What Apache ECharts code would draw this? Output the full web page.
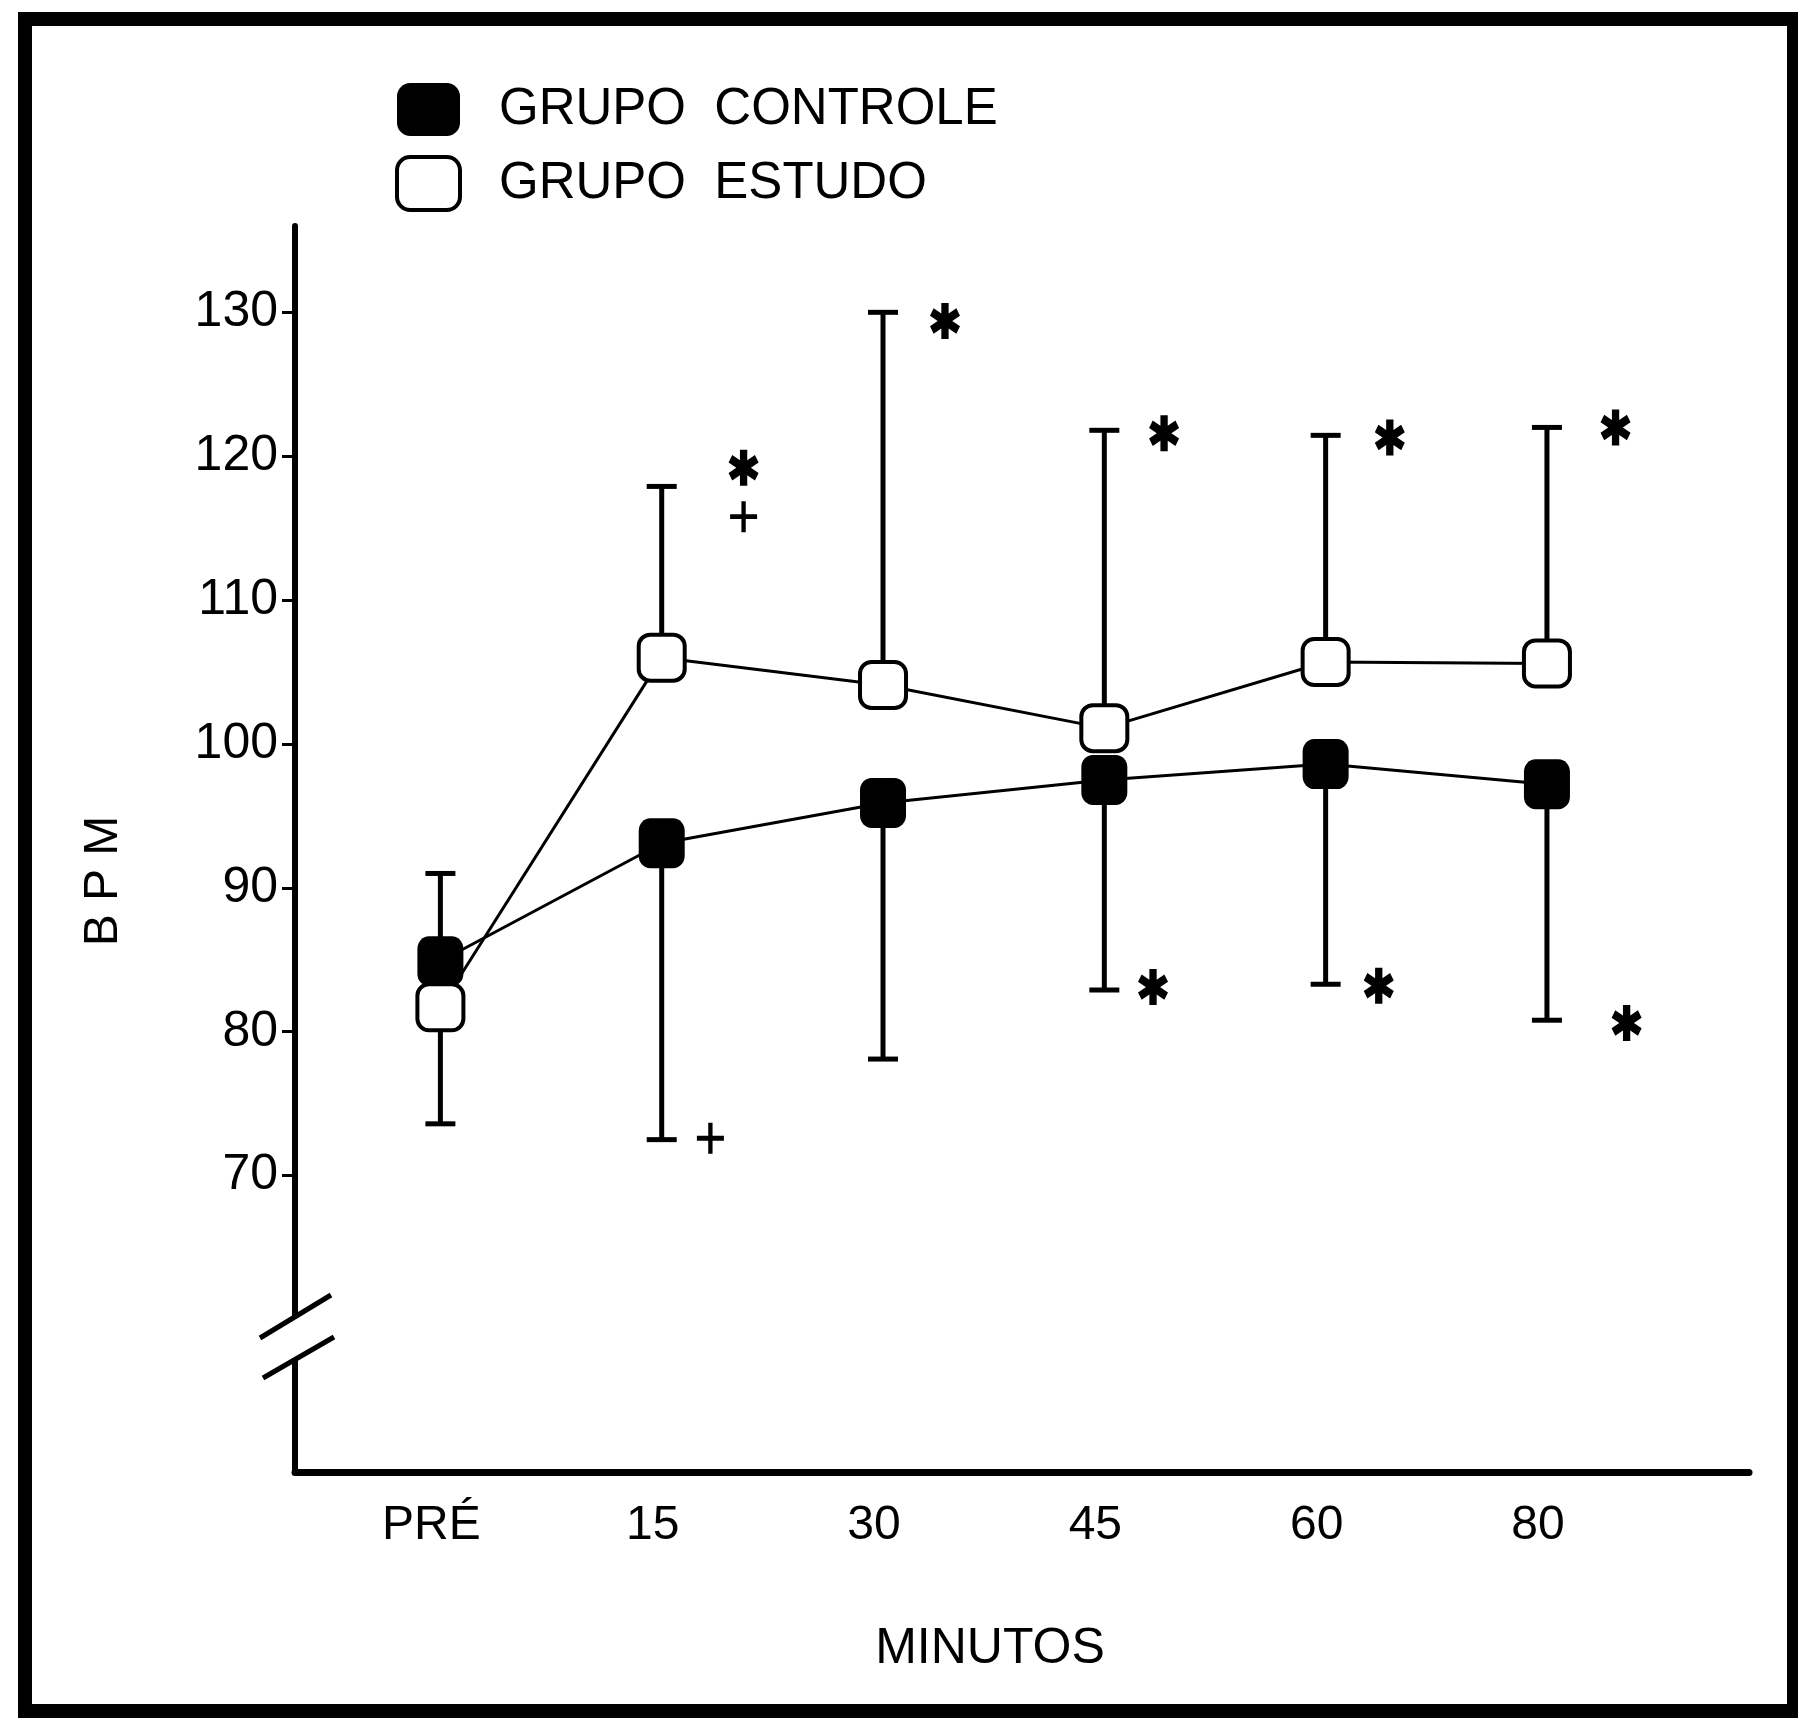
<!DOCTYPE html>
<html>
<head>
<meta charset="utf-8">
<script src="https://cdn.jsdelivr.net/npm/echarts@6/dist/echarts.min.js"></script>
<style>
  html, body { margin: 0; padding: 0; background: #fff; }
  #chart { width: 1798px; height: 1718px; }
</style>
</head>
<body>
<div id="chart"></div>
<script>
// data
const categories = ["PRÉ", "15", "30", "45", "60", "80"];
const controle = [84.9, 93.1, 95.9, 97.5, 98.6, 97.2];
const controleBar = [91.0, 72.5, 78.1, 82.9, 83.3, 80.8];
const estudo = [81.7, 106.0, 104.1, 101.1, 105.7, 105.6];
const estudoBar = [73.6, 117.9, 130.0, 121.8, 121.45, 122.0];
const yTicks = [70, 80, 90, 100, 110, 120, 130];
const asterisks = [[1.37, 119.2], [2.28, 129.4], [3.27, 121.6], [4.29, 121.3], [5.31, 122.0],
                   [3.22, 83.1], [4.24, 83.2], [5.36, 80.6]];
const plusses = [[1.37, 115.8], [1.22, 72.6]];

const FONT = "Liberation Sans";

// six-spoke asterisk built from three bars
function asteriskPath() {
  let d = "";
  for (let i = 0; i < 3; i++) {
    const a = i * Math.PI / 3;
    const dx = Math.sin(a), dy = -Math.cos(a);
    const px = -dy, py = dx;
    const L = 10, w = 2.4;
    const pts = [
      [dx * L + px * w, dy * L + py * w],
      [-dx * L + px * w, -dy * L + py * w],
      [-dx * L - px * w, -dy * L - py * w],
      [dx * L - px * w, dy * L - py * w]
    ];
    d += "M" + pts.map(p => p[0].toFixed(2) + " " + p[1].toFixed(2)).join(" L") + " Z ";
  }
  return "path://" + d;
}
const plusPath = "path://M-1.6 -10 L1.6 -10 L1.6 -1.6 L10 -1.6 L10 1.6 L1.6 1.6 L1.6 10 L-1.6 10 L-1.6 1.6 L-10 1.6 L-10 -1.6 L-1.6 -1.6 Z";

function errBar(params, api) {
  const x = api.value(0);
  const p0 = api.coord([x, api.value(1)]);
  const p1 = api.coord([x, api.value(2)]);
  return {
    type: "group",
    children: [
      { type: "line", shape: { x1: p0[0], y1: p0[1], x2: p1[0], y2: p1[1] },
        style: { stroke: "#000", lineWidth: 5 } },
      { type: "line", shape: { x1: p1[0] - 15, y1: p1[1], x2: p1[0] + 15, y2: p1[1] },
        style: { stroke: "#000", lineWidth: 5 } }
    ]
  };
}

var chart = echarts.init(document.getElementById("chart"));
var option = {
  animation: false,
  backgroundColor: "#fff",
  grid: { left: 295, right: 49, top: 226, bottom: 246 },
  legend: {
    orient: "vertical",
    left: 390,
    top: 78,
    itemWidth: 63,
    itemHeight: 53,
    itemGap: 19,
    selectedMode: false,
    formatter: (n) => n.replace(" ", "  "),
    textStyle: { fontSize: 51, fontFamily: FONT, color: "#000", padding: [0, 0, 0, 34] },
    data: [
      { name: "GRUPO CONTROLE", icon: "roundRect", itemStyle: { color: "#000", borderWidth: 0 } },
      { name: "GRUPO ESTUDO", icon: "roundRect", itemStyle: { color: "#fff", borderColor: "#000", borderWidth: 4 } }
    ]
  },
  xAxis: {
    type: "value",
    min: -0.657,
    max: 5.913,
    axisLine: { onZero: false, lineStyle: { color: "#000", width: 7 } },
    axisTick: { show: false },
    splitLine: { show: false },
    axisLabel: {
      customValues: [0, 1, 2, 3, 4, 5],
      formatter: (v) => categories[Math.round(v)],
      fontSize: 48,
      fontFamily: FONT,
      color: "#000",
      margin: 30,
      padding: [0, 18, 0, 0]
    }
  },
  yAxis: {
    type: "value",
    min: 49.4,
    max: 136,
    axisLine: { onZero: false, lineStyle: { color: "#000", width: 6 } },
    axisTick: { show: true, customValues: yTicks, length: 13, lineStyle: { color: "#000", width: 3 } },
    splitLine: { show: false },
    axisLabel: { customValues: yTicks, fontSize: 50, fontFamily: FONT, color: "#000", margin: 17 }
  },
  graphic: [
    { type: "rect", z: 100, shape: { x: 25, y: 19, width: 1769, height: 1692 },
      style: { fill: "none", stroke: "#000", lineWidth: 14 } },
    { type: "rect", z: 100, shape: { x: 282, y: 1318, width: 28, height: 40 }, style: { fill: "#fff" } },
    { type: "line", z: 101, shape: { x1: 260, y1: 1338, x2: 331, y2: 1295 }, style: { stroke: "#000", lineWidth: 5 } },
    { type: "line", z: 101, shape: { x1: 263, y1: 1378, x2: 334, y2: 1337 }, style: { stroke: "#000", lineWidth: 5 } },
    { type: "text", z: 100, x: 104, y: 881, rotation: Math.PI / 2,
      style: { text: "B P M", fontSize: 48, fontFamily: FONT, fill: "#000", textAlign: "center", textVerticalAlign: "middle" } },
    { type: "text", z: 100, x: 990, y: 1649,
      style: { text: "MINUTOS", fontSize: 50, fontFamily: FONT, fill: "#000", textAlign: "center", textVerticalAlign: "middle" } }
  ],
  series: [
    {
      type: "custom",
      z: 1,
      renderItem: errBar,
      data: controle.map((v, i) => [i, v, controleBar[i]]),
      encode: { x: 0, y: [1, 2] }
    },
    {
      type: "custom",
      z: 1,
      renderItem: errBar,
      data: estudo.map((v, i) => [i, v, estudoBar[i]]),
      encode: { x: 0, y: [1, 2] }
    },
    {
      name: "GRUPO CONTROLE",
      type: "line",
      z: 2,
      data: controle.map((v, i) => [i, v]),
      symbol: "roundRect",
      symbolSize: [46, 50],
      itemStyle: { color: "#000" },
      lineStyle: { color: "#000", width: 3 }
    },
    {
      name: "GRUPO ESTUDO",
      type: "line",
      z: 3,
      data: estudo.map((v, i) => [i, v]),
      symbol: "roundRect",
      symbolSize: [46, 46],
      itemStyle: { color: "#fff", borderColor: "#000", borderWidth: 4 },
      lineStyle: { color: "#000", width: 3 }
    },
    {
      type: "scatter",
      z: 4,
      data: asterisks,
      symbol: asteriskPath(),
      symbolSize: [30, 36],
      itemStyle: { color: "#000", opacity: 1 }
    },
    {
      type: "scatter",
      z: 4,
      data: plusses,
      symbol: plusPath,
      symbolSize: [27, 31],
      itemStyle: { color: "#000", opacity: 1 }
    }
  ]
};
chart.setOption(option);
</script>
</body>
</html>
